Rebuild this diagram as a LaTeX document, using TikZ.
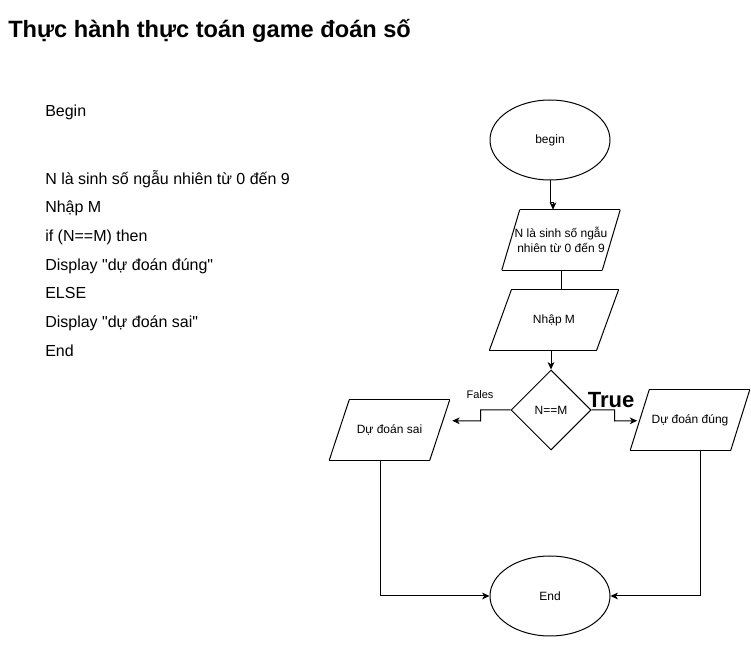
\documentclass[tikz,border=0pt]{standalone}
\usepackage{fontspec}
\setmainfont{Liberation Sans}[Ligatures=TeXOff]
\usetikzlibrary{shapes.geometric,arrows.meta,positioning}

\begin{document}
\begin{tikzpicture}[
    x=0.75pt, y=-0.75pt,
    every node/.style={inner sep=0pt},
    line/.style={line width=0.75pt},
    term/.style={ellipse, draw, line width=0.75pt, minimum width=90pt,
                 minimum height=60pt, font=\fontsize{9}{11}\selectfont},
    io/.style={rectangle, minimum width=75pt, minimum height=45pt, align=center,
               font=\fontsize{9}{11}\selectfont,
               append after command={
                 ([xshift=-#1/2]\tikzlastnode.south west) edge[line] ([xshift=#1/2]\tikzlastnode.north west)
                 ([xshift=#1/2]\tikzlastnode.north west) edge[line] ([xshift=#1/2]\tikzlastnode.north east)
                 ([xshift=#1/2]\tikzlastnode.north east) edge[line] ([xshift=-#1/2]\tikzlastnode.south east)
                 ([xshift=-#1/2]\tikzlastnode.south east) edge[line] ([xshift=-#1/2]\tikzlastnode.south west)}},
    io/.default=15pt,
    decision/.style={diamond, draw, line width=0.75pt, minimum width=60pt,
                     minimum height=60pt, font=\fontsize{9}{11}\selectfont},
    code/.style={anchor=base west, font=\fontsize{12}{14}\selectfont},
    arrow/.style={-{Stealth[length=5.5pt, width=5pt, inset=1.5pt]}, line width=0.75pt},
]
\useasboundingbox (0,0) rectangle (751,645);
\node[anchor=base west, font=\fontsize{17.7}{20}\selectfont\bfseries] (title) at (8,38) {Thực hành thực toán game đoán số};

% pseudo code
\node[code] (lbegin) at (45,117) {Begin};
\node[code] (lrand) at (45,185) {N là sinh số ngẫu nhiên từ 0 đến 9};
\node[code] (linput) at (45,213) {Nhập M};
\node[code] (lif) at (45,242) {if (N==M) then};
\node[code] (lyes) at (45,271) {Display "dự đoán đúng"};
\node[code] (lelse) at (45,299) {ELSE};
\node[code] (lno) at (45,328) {Display "dự đoán sai"};
\node[code] (lend) at (45,357) {End};

% flowchart
\node[term] (start) at (550,140) {begin};
\node[io=13.5pt] (rand) at (561,240) {N là sinh số ngẫu\\nhiên từ 0 đến 9};
\node[io=16.5pt, minimum width=80pt] (input) at (554,320) {Nhập M};
\node[decision] (check) at (551,410) {N==M};
\node[io] (wrong) at (389.5,430) {Dự đoán sai};
\node[io=14.25pt] (correct) at (690,420) {Dự đoán đúng};
\node[term] (stop) at (550,596) {End};
\node[font=\fontsize{8.25}{10}\selectfont] (fales) at (480,395) {Fales};
\node[font=\fontsize{16.5}{18}\selectfont\bfseries] (true) at (611,400) {True};

\draw[arrow] (start.south) -- ++(0,22) -| ([xshift=-6pt]rand.north);
\draw[line] (rand.south) -- (input.north -| rand.south);
\draw[arrow] (input.south -| check.north) -- (check.north);
\draw[arrow] (check.west) -- ++(-30,0) -- ++(0,11) -- ([shift={(12.5,21)}]wrong.north east);
\draw[arrow] (check.east) -- ++(23,0) -- ++(0,11) -- ([shift={(-2.5,31)}]correct.north west);
\draw[arrow] ([xshift=-6.75pt]wrong.south) |- (stop.west);
\draw[arrow] ([xshift=8pt]correct.south) |- (stop.east);
\end{tikzpicture}
\end{document}
